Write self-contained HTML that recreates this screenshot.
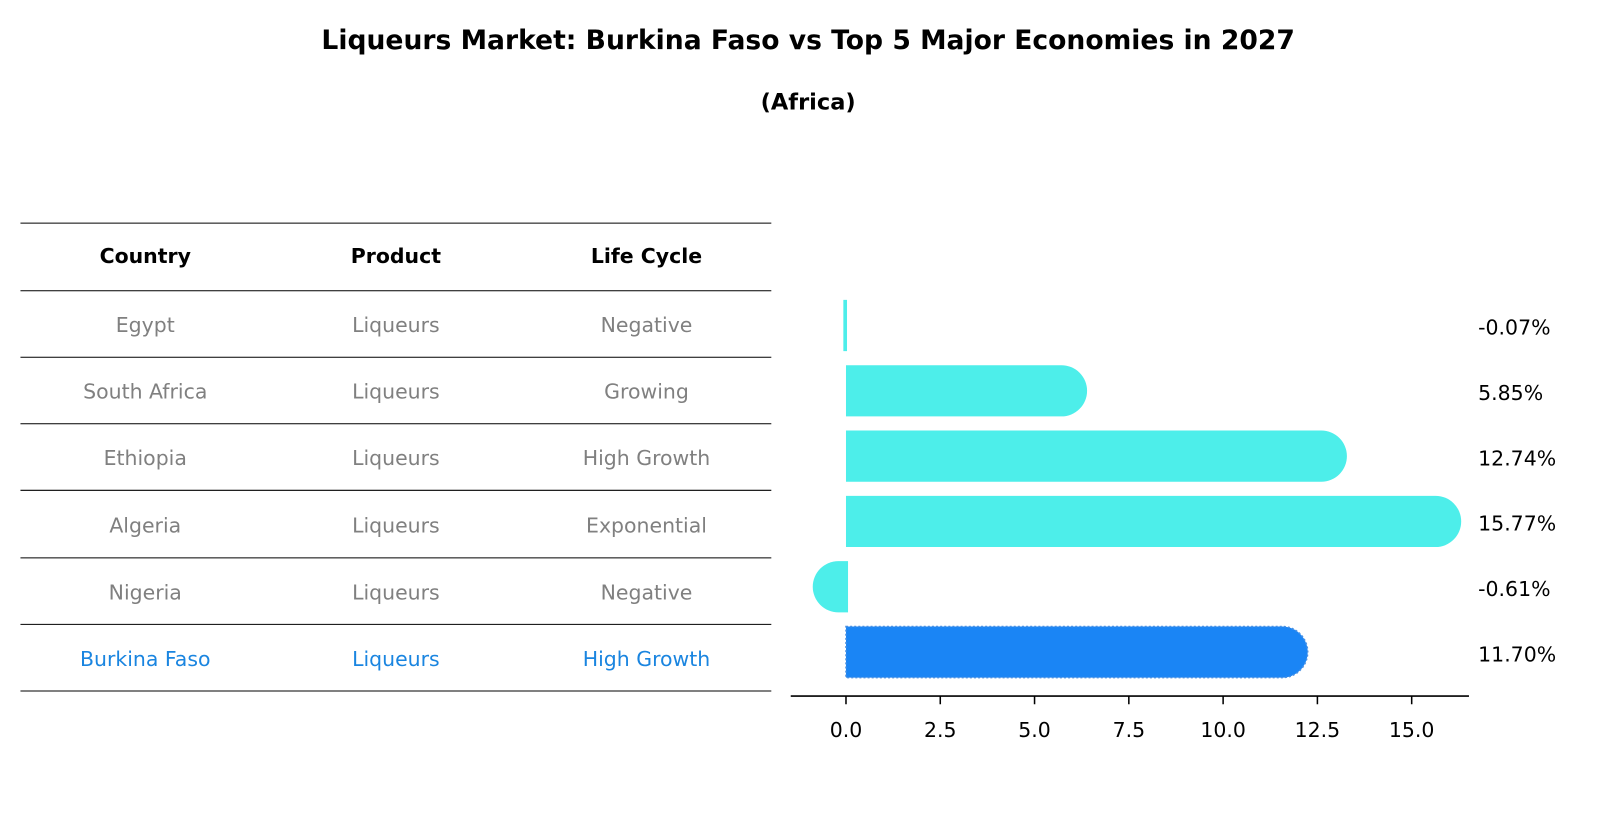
<!DOCTYPE html>
<html><head><meta charset="utf-8"><style>
body{margin:0;background:#fff;font-family:"Liberation Sans","DejaVu Sans",sans-serif;overflow:hidden}
svg text{font-family:"DejaVu Sans","Liberation Sans",sans-serif}
</style></head><body>
<svg width="1604" height="823" viewBox="0 0 1568 804" preserveAspectRatio="none" xmlns="http://www.w3.org/2000/svg">
<text x="790" y="48" text-anchor="middle" font-size="26" font-weight="bold">Liqueurs Market: Burkina Faso vs Top 5 Major Economies in 2027</text>
<text x="790" y="107" text-anchor="middle" font-size="22" font-weight="bold">(Africa)</text>
<g id="table"></g>
<g id="bars"></g>
</svg>
<script>
const countries=["Egypt","South Africa","Ethiopia","Algeria","Nigeria","Burkina Faso"];
const lifeCycles=["Negative","Growing","High Growth","Exponential","Negative","High Growth"];
const values=[-0.07,5.85,12.74,15.77,-0.61,11.70];
const tickValues=[0,2.5,5,7.5,10,12.5,15];
const NS="http://www.w3.org/2000/svg";
function mk(tag,attrs,parent){const e=document.createElementNS(NS,tag);for(const k in attrs)e.setAttribute(k,attrs[k]);parent.appendChild(e);return e;}
const table=document.getElementById('table');
const lineYs=[218,284,349,414,479,545,610,675];
lineYs.forEach(y=>{const l=mk('line',{x1:20,x2:754,y1:y,y2:y,stroke:'#000','stroke-width':1},table);

});
const colX=[142,387,632];
["Country","Product","Life Cycle"].forEach((h,i)=>{const t=mk('text',{x:colX[i],y:257,'text-anchor':'middle','font-size':20,'font-weight':'bold'},table);t.textContent=h;

});
countries.forEach((c,r)=>{const y=(lineYs[r+1]+lineYs[r+2])/2+8;const col=r===countries.length-1?'#1a85e0':'#808080';
[c,"Liqueurs",lifeCycles[r]].forEach((v,i)=>{const t=mk('text',{x:colX[i],y:y,'text-anchor':'middle','font-size':20,fill:col},table);t.textContent=v;

});});
const bars=document.getElementById('bars');
const x0=827,scale=553/15;const xS=v=>x0+v*scale;
const yC=r=>318+r*63.8;
const h=50,R=25;
values.forEach((v,r)=>{const yc=yC(r),top=yc-h/2,bot=yc+h/2;const last=r===values.length-1;
const fill=last?'#1a85f5':'#4deeea';let p;
const vx=xS(v);
if(Math.abs(vx-x0)<8){p=`M${Math.min(x0,vx)} ${top}H${Math.max(x0,vx)+1}V${bot}H${Math.min(x0,vx)}Z`;}
else if(v>0){const e=vx+20;p=`M${x0} ${top}H${e-R}A${R} ${R} 0 0 1 ${e-R} ${bot}H${x0}Z`;}
else{const e=vx-10;p=`M${x0+2} ${top}H${e+R}A${R} ${R} 0 0 0 ${e+R} ${bot}H${x0+2}Z`;}
const b=mk('path',{d:p,fill:fill},bars);
if(last){b.setAttribute('stroke','#4a90e2');b.setAttribute('stroke-dasharray','2 2');b.setAttribute('stroke-width','1.5');}


const t=mk('text',{x:1445,y:yc+9,'font-size':20},bars);t.textContent=v.toFixed(2)+'%';

});
const ax=mk('line',{x1:773,x2:1436,y1:680,y2:680,stroke:'#000','stroke-width':1.5},bars);


tickValues.forEach(tv=>{const x=xS(tv);const tk=mk('line',{x1:x,x2:x,y1:680,y2:688,stroke:'#000','stroke-width':1.5},bars);


const t=mk('text',{x:x,y:720,'text-anchor':'middle','font-size':20},bars);t.textContent=tv.toFixed(1);

});
</script>
</body></html>
